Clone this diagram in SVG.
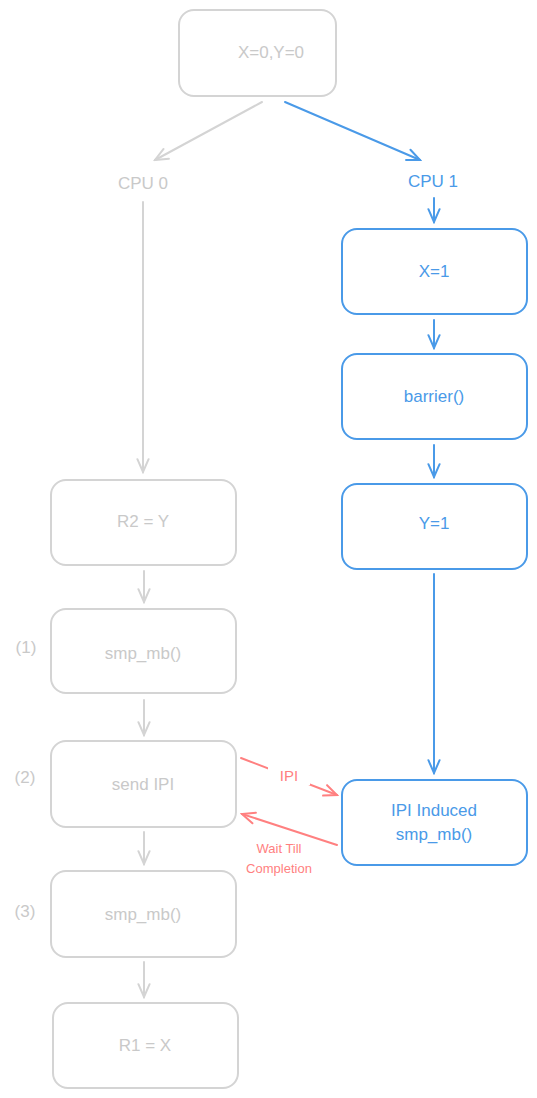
<svg xmlns="http://www.w3.org/2000/svg" width="537" height="1098" viewBox="0 0 537 1098">
<style>
.g{fill:#fff;stroke:#d4d4d4;stroke-width:2}
.b{fill:#fff;stroke:#4a9ae8;stroke-width:2}
.tg{fill:#c9c9c9;font-family:"Liberation Sans",Arial,sans-serif;font-size:17px;text-anchor:middle;dominant-baseline:central}
.tb{fill:#4a9ae8;font-family:"Liberation Sans",Arial,sans-serif;font-size:17px;text-anchor:middle;dominant-baseline:central}
.tr{fill:#ff7f7f;font-family:"Liberation Sans",Arial,sans-serif;text-anchor:middle;dominant-baseline:central}
.cg{fill:none;stroke:#d4d4d4;stroke-width:2;stroke-linecap:round;marker-end:url(#ag)}
.cb{fill:none;stroke:#4a9ae8;stroke-width:2;stroke-linecap:round;marker-end:url(#ab)}
.cr{fill:none;stroke:#ff8080;stroke-width:2;stroke-linecap:round;marker-end:url(#ar)}
</style>
<defs>
<marker id="ag" viewBox="0 0 20 20" refX="18" refY="10" markerWidth="16" markerHeight="16" markerUnits="userSpaceOnUse" orient="auto"><path d="M2,3 L18,10 L2,17" fill="none" stroke="#d4d4d4" stroke-width="2.5" stroke-linecap="round"/></marker>
<marker id="ab" viewBox="0 0 20 20" refX="18" refY="10" markerWidth="16" markerHeight="16" markerUnits="userSpaceOnUse" orient="auto"><path d="M2,3 L18,10 L2,17" fill="none" stroke="#4a9ae8" stroke-width="2.5" stroke-linecap="round"/></marker>
<marker id="ar" viewBox="0 0 20 20" refX="18" refY="10" markerWidth="16" markerHeight="16" markerUnits="userSpaceOnUse" orient="auto"><path d="M2,3 L18,10 L2,17" fill="none" stroke="#ff8080" stroke-width="2.5" stroke-linecap="round"/></marker>
</defs>
<rect width="537" height="1098" fill="#fff"/>
<g id="connectors">
<path class="cg" d="M262,102 L155,160"/>
<path class="cb" d="M285,102 L420,160"/>
<path class="cg" d="M143,202 L143,472"/>
<path class="cb" d="M434,198 L434,222"/>
<path class="cb" d="M434,320 L434,348"/>
<path class="cb" d="M434,445 L434,477"/>
<path class="cb" d="M434,574 L434,773"/>
<path class="cg" d="M144,571 L144,602"/>
<path class="cg" d="M144,700 L144,735"/>
<path class="cg" d="M144,832 L144,864"/>
<path class="cg" d="M144,962 L144,997"/>
<path class="cr" d="M241,758 L337,795"/>
<path class="cr" d="M337,845 L242,814"/>
<rect x="268" y="765" width="42" height="20" fill="#fff"/>
<text class="tr" x="289" y="775" font-size="15">IPI</text>
<text class="tr" x="279" y="848" font-size="13">Wait Till</text>
<text class="tr" x="279" y="868" font-size="13">Completion</text>
</g>
<g id="init"><rect class="g" x="179" y="10" width="157" height="86" rx="15"/><text class="tg" x="271" y="52">X=0,Y=0</text></g>
<g id="cpu0"><text class="tg" x="143" y="183">CPU 0</text></g>
<g id="cpu1"><text class="tb" x="433" y="181">CPU 1</text></g>
<g id="x1"><rect class="b" x="342" y="229" width="185" height="85" rx="15"/><text class="tb" x="434" y="271">X=1</text></g>
<g id="barrier"><rect class="b" x="342" y="354" width="185" height="85" rx="15"/><text class="tb" x="434" y="396">barrier()</text></g>
<g id="y1"><rect class="b" x="342" y="484" width="185" height="85" rx="15"/><text class="tb" x="434" y="523">Y=1</text></g>
<g id="ipiinduced"><rect class="b" x="342" y="780" width="185" height="85" rx="15"/><text class="tb" x="434" y="810">IPI Induced</text><text class="tb" x="434" y="834">smp_mb()</text></g>
<g id="r2"><rect class="g" x="51" y="480" width="185" height="85" rx="15"/><text class="tg" x="143" y="521">R2 = Y</text></g>
<g id="mb1"><rect class="g" x="51" y="609" width="185" height="84" rx="15"/><text class="tg" x="143" y="653">smp_mb()</text><text class="tg" x="26" y="647">(1)</text></g>
<g id="sendipi"><rect class="g" x="51" y="741" width="185" height="86" rx="15"/><text class="tg" x="143" y="784">send IPI</text><text class="tg" x="25" y="777">(2)</text></g>
<g id="mb3"><rect class="g" x="51" y="871" width="185" height="86" rx="15"/><text class="tg" x="143" y="914">smp_mb()</text><text class="tg" x="25" y="911">(3)</text></g>
<g id="r1"><rect class="g" x="53" y="1003" width="185" height="85" rx="15"/><text class="tg" x="145" y="1045">R1 = X</text></g>
</svg>
